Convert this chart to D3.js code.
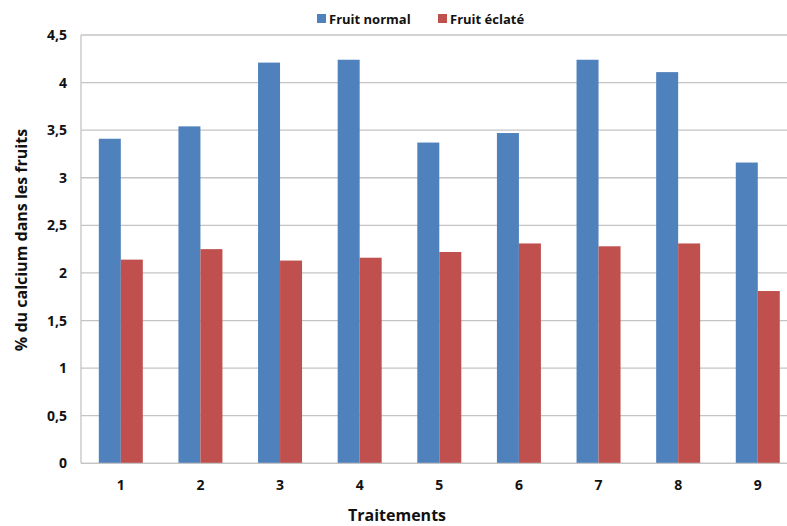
<!DOCTYPE html>
<html>
<head>
<meta charset="utf-8">
<script src="https://cdn.jsdelivr.net/npm/d3@7"></script>
<style>
  html, body { margin: 0; padding: 0; background: #fff; }
  svg { display: block; font-family: "Open Sans", Lato, sans-serif; font-weight: bold; }
</style>
</head>
<body>
<svg id="chart" width="787" height="526"></svg>
<script>
// Traitements 1 à 9
const categories = ["1", "2", "3", "4", "5", "6", "7", "8", "9"];
const seriesNames = ["Fruit normal", "Fruit éclaté"];
const fruitNormal = [3.41, 3.54, 4.21, 4.24, 3.37, 3.47, 4.24, 4.11, 3.16];
const fruitEclate = [2.14, 2.25, 2.13, 2.16, 2.22, 2.31, 2.28, 2.31, 1.81];
const yTicks = [0, 0.5, 1, 1.5, 2, 2.5, 3, 3.5, 4, 4.5];
const yTickLabels = ["0", "0,5", "1", "1,5", "2", "2,5", "3", "3,5", "4", "4,5"];
const colors = ["#4F81BD", "#C0504D"];

const svg = d3.select("#chart");
const plotLeft = 81, plotRight = 797.6, plotTop = 35, plotBottom = 463.3;
const font = "'Open Sans', Lato, sans-serif";

const x0 = d3.scaleBand().domain(categories).range([plotLeft, plotRight]).padding(0);
const x1 = d3.scaleBand().domain(seriesNames).range([0, x0.bandwidth()])
  .paddingInner(0).paddingOuter(0.81);
const y = d3.scaleLinear().domain([0, 4.5]).range([plotBottom, plotTop]);

// horizontal gridlines
svg.append("g")
  .selectAll("line")
  .data(yTicks)
  .join("line")
  .attr("x1", plotLeft).attr("x2", plotRight)
  .attr("y1", d => y(d)).attr("y2", d => y(d))
  .attr("stroke", "#c4c4c4").attr("stroke-width", 1.3);

// y axis line
svg.append("line")
  .attr("x1", plotLeft).attr("x2", plotLeft)
  .attr("y1", plotTop).attr("y2", plotBottom)
  .attr("stroke", "#c4c4c4").attr("stroke-width", 1.3);

// y tick labels
const yAxis = d3.axisLeft(y).tickValues(yTicks)
  .tickFormat((d, i) => yTickLabels[i]).tickSize(0).tickPadding(14);
const gy = svg.append("g").attr("transform", `translate(${plotLeft},0)`).call(yAxis);
gy.select(".domain").remove();
gy.selectAll("text").attr("font-size", 14).attr("font-family", font)
  .attr("font-weight", "bold").attr("fill", "#111");

// bars
const rows = categories.map((c, i) => ({ cat: c, vals: [fruitNormal[i], fruitEclate[i]] }));
const groups = svg.append("g").selectAll("g")
  .data(rows).join("g")
  .attr("transform", d => `translate(${x0(d.cat)},0)`);
groups.selectAll("rect")
  .data(d => d.vals.map((v, k) => ({ key: seriesNames[k], v, k })))
  .join("rect")
  .attr("x", d => x1(d.key))
  .attr("width", x1.bandwidth())
  .attr("y", d => y(d.v))
  .attr("height", d => y(0) - y(d.v))
  .attr("fill", d => colors[d.k]);

// x axis line at zero
svg.append("line")
  .attr("x1", plotLeft).attr("x2", plotRight)
  .attr("y1", plotBottom).attr("y2", plotBottom)
  .attr("stroke", "#c4c4c4").attr("stroke-width", 1.3);

// x tick labels
const xAxis = d3.axisBottom(x0).tickSize(0).tickPadding(17);
const gx = svg.append("g").attr("transform", `translate(0,${plotBottom})`).call(xAxis);
gx.select(".domain").remove();
gx.selectAll("text").attr("font-size", 14).attr("font-family", font)
  .attr("font-weight", "bold").attr("fill", "#111");

// axis titles
svg.append("text")
  .attr("x", 397).attr("y", 521)
  .attr("text-anchor", "middle")
  .attr("font-size", 16).attr("fill", "#111")
  .text("Traitements");

svg.append("text")
  .attr("transform", "translate(27,240) rotate(-90)")
  .attr("text-anchor", "middle")
  .attr("font-size", 16).attr("fill", "#111")
  .text("% du calcium dans les fruits");

// legend
const legendX = [317, 438];
const legend = svg.append("g").selectAll("g")
  .data(seriesNames).join("g")
  .attr("transform", (d, i) => `translate(${legendX[i]},14)`);
legend.append("rect").attr("width", 9).attr("height", 9)
  .attr("fill", (d, i) => colors[i]);
legend.append("text").attr("x", 12).attr("y", 9.5)
  .attr("font-size", 13).attr("fill", "#111")
  .text(d => d);
</script>
</body>
</html>
